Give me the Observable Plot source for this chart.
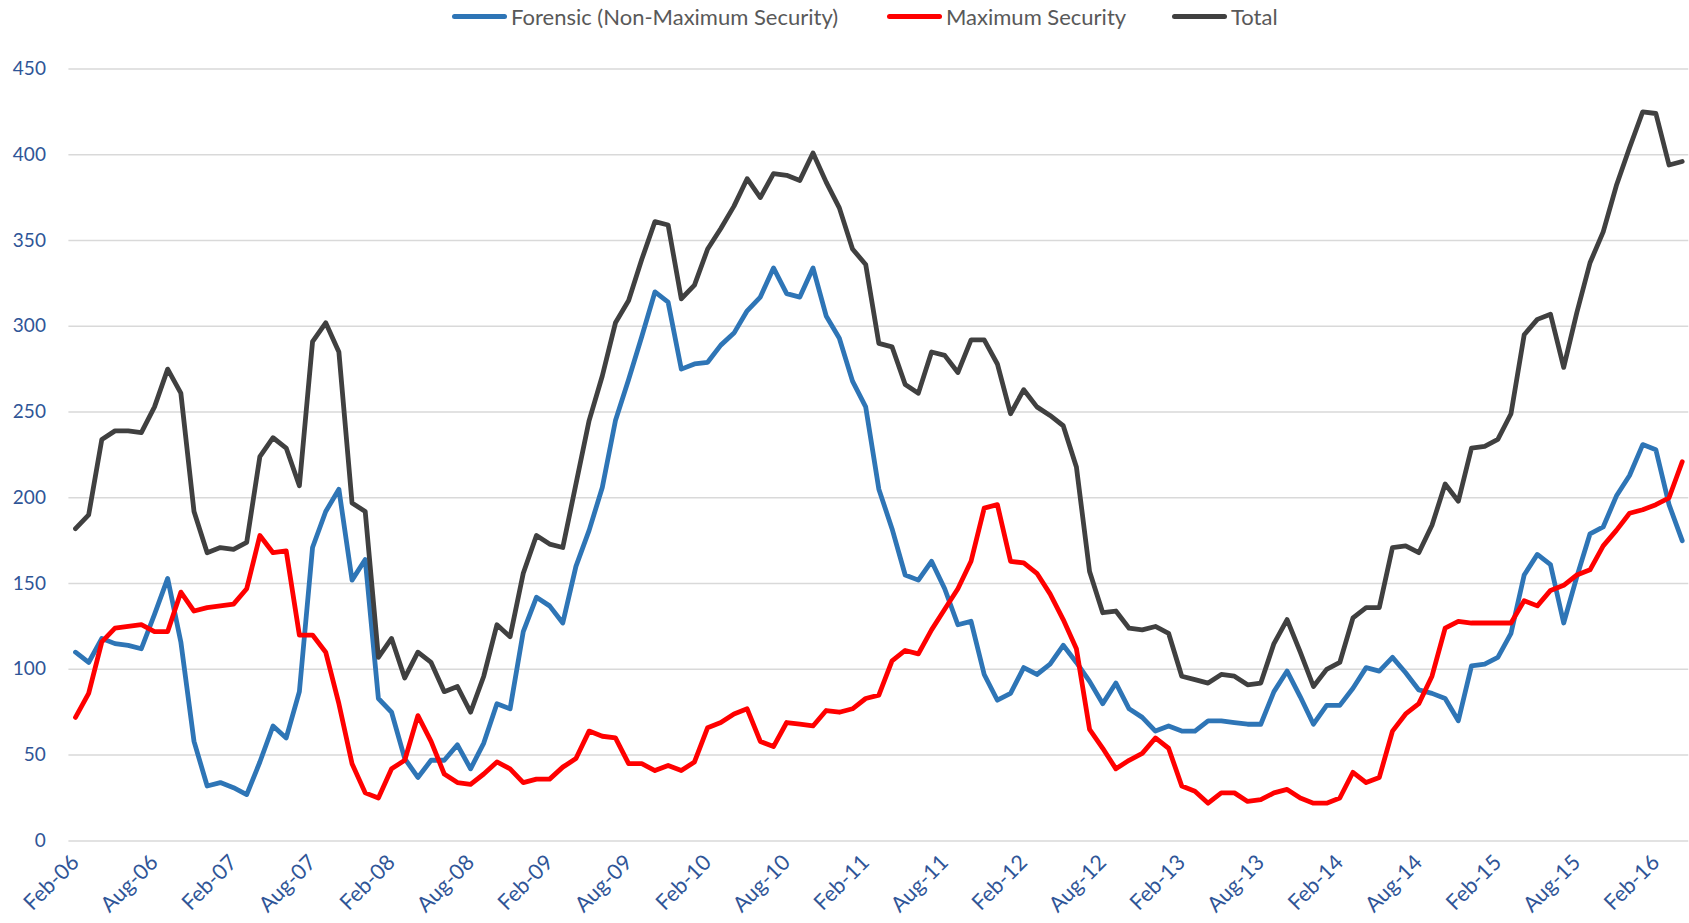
<!DOCTYPE html>
<html>
<head>
<meta charset="utf-8">
<script src="https://cdn.jsdelivr.net/npm/d3@7"></script>
<script src="https://cdn.jsdelivr.net/npm/@observablehq/plot@0.6"></script>
<style>
  html, body { margin: 0; padding: 0; background: #fff; }
  #wrap { position: relative; width: 1689px; height: 923px; overflow: hidden; }
  #legend { position: absolute; left: 0; top: 0; width: 1689px; height: 36px; font-family: Lato, "Liberation Sans", sans-serif; font-size: 22px; color: #595959; }
  .item { position: absolute; top: 2px; display: flex; align-items: center; height: 28px; }
  .sw { display: inline-block; width: 55px; height: 5px; border-radius: 3px; margin-right: 4px; }
  #chart { position: absolute; left: 0; top: 36px; }
</style>
</head>
<body>
<div id="wrap">
  <div id="legend"></div>
  <div id="chart"></div>
</div>
<script>
// Series names and colours
const seriesNames = ["Forensic (Non-Maximum Security)", "Maximum Security", "Total"];
const seriesColors = ["#2E75B6", "#FF0000", "#404040"];

// X tick labels (every 6 months, starting Feb-06)
const tickLabels = ["Feb-06","Aug-06","Feb-07","Aug-07","Feb-08","Aug-08","Feb-09","Aug-09","Feb-10","Aug-10","Feb-11","Aug-11","Feb-12","Aug-12","Feb-13","Aug-13","Feb-14","Aug-14","Feb-15","Aug-15","Feb-16"];

// Monthly values Feb-06 .. Apr-16
const forensic = [110,104,118,115,114,112,132,153,116,58,32,34,31,27,46,67,60,87,171,192,205,152,164,83,75,48,37,47,47,56,42,57,80,77,122,142,137,127,160,181,206,245,269,294,320,314,275,278,279,289,296,309,317,334,319,317,334,306,293,268,253,205,182,155,152,163,147,126,128,97,82,86,101,97,103,114,104,93,80,92,77,72,64,67,64,64,70,70,69,68,68,87,99,84,68,79,79,89,101,99,107,98,88,86,83,70,102,103,107,121,155,167,161,127,154,179,183,201,213,231,228,196,175];
const maxSecurity = [72,86,116,124,125,126,122,122,145,134,136,137,138,147,178,168,169,120,120,110,80,45,28,25,42,47,73,58,39,34,33,39,46,42,34,36,36,43,48,64,61,60,45,45,41,44,41,46,66,69,74,77,58,55,69,68,67,76,75,77,83,85,105,111,109,123,135,147,163,194,196,163,162,156,144,129,112,65,54,42,47,51,60,54,32,29,22,28,28,23,24,28,30,25,22,22,25,40,34,37,64,74,80,96,124,128,127,127,127,127,140,137,146,149,155,158,172,181,191,193,196,200,221];
const total = [182,190,234,239,239,238,253,275,261,192,168,171,170,174,224,235,229,207,291,302,285,197,192,107,118,95,110,104,87,90,75,96,126,119,156,178,173,171,208,245,271,302,315,339,361,359,316,324,345,357,370,386,375,389,388,385,401,384,369,345,336,290,288,266,261,285,283,273,292,292,278,249,263,253,248,242,218,157,133,134,124,123,125,121,96,94,92,97,96,91,92,115,129,110,90,100,104,130,136,136,171,172,168,184,208,198,229,230,234,249,295,304,307,276,308,337,355,382,404,425,424,394,396];

const yTicks = [0,50,100,150,200,250,300,350,400,450];

// Legend (HTML, above the SVG)
const legendLeft = [452, 887, 1172];
const legend = document.getElementById("legend");
seriesNames.forEach((name, k) => {
  const it = document.createElement("div");
  it.className = "item";
  it.style.left = legendLeft[k] + "px";
  const sw = document.createElement("span");
  sw.className = "sw";
  sw.style.background = seriesColors[k];
  const tx = document.createElement("span");
  tx.textContent = name;
  it.appendChild(sw); it.appendChild(tx);
  legend.appendChild(it);
});

// Tidy data
const allSeries = [forensic, maxSecurity, total];
const rows = [];
allSeries.forEach((vals, k) => vals.forEach((v, i) => rows.push({i, v, s: seriesNames[k]})));

const tickIdx = tickLabels.map((_, k) => k * 6);

const chart = Plot.plot({
  width: 1689,
  height: 887,
  marginTop: 32.4,
  marginBottom: 82.6,
  marginLeft: 68.4,
  marginRight: 0.7,
  style: { fontFamily: "Lato, 'Liberation Sans', sans-serif", fontSize: "19px", color: "#2F5597", background: "#fff", overflow: "visible" },
  x: { type: "linear", domain: [-0.5, allSeries[0].length - 0.5] },
  y: { domain: [0, 450] },
  color: { domain: seriesNames, range: seriesColors },
  marks: [
    Plot.gridY(yTicks, { stroke: "#D9D9D9", strokeOpacity: 1, strokeWidth: 1.5 }),
    Plot.axisY({ ticks: yTicks, tickSize: 0, tickPadding: 23, fontSize: 19, label: null }),
    Plot.axisX({ ticks: tickIdx, tickFormat: d => tickLabels[d / 6], tickRotate: -45, tickSize: 0, tickPadding: 18, fontSize: 21.5, label: null }),
    Plot.line(rows, { x: "i", y: "v", z: "s", stroke: "s", strokeWidth: 4.8, strokeLinejoin: "round", strokeLinecap: "round" })
  ]
});
document.getElementById("chart").appendChild(chart);
</script>
</body>
</html>
